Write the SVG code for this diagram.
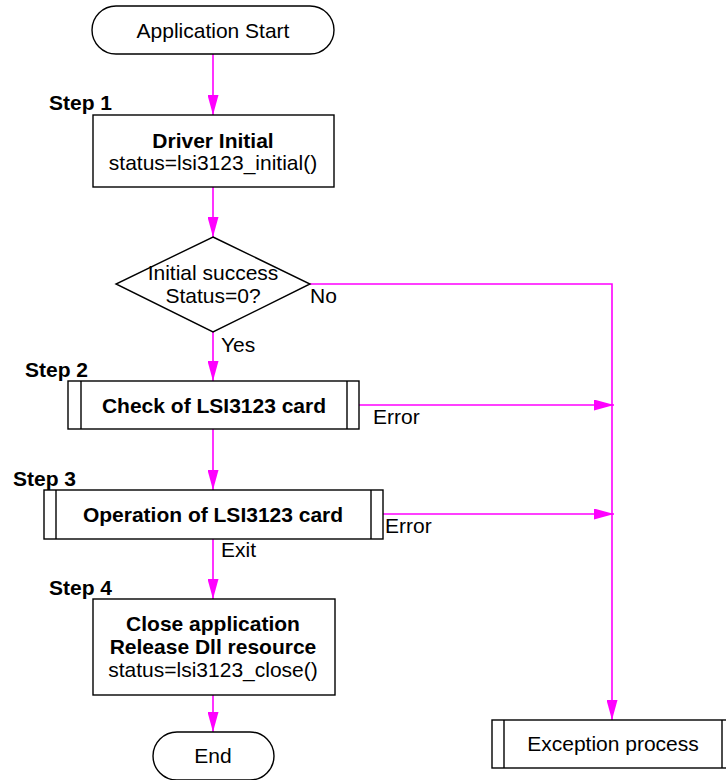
<svg xmlns="http://www.w3.org/2000/svg" width="726" height="780" viewBox="0 0 726 780">
<defs>
<marker id="arr" viewBox="0 0 20 11" refX="20" refY="5.5" markerWidth="20" markerHeight="11" markerUnits="userSpaceOnUse" orient="auto">
<path d="M0,0 L20,5.5 L0,11 Z" fill="#FF00FF"/>
</marker>
<style>
.shape{fill:#fff;stroke:#000;stroke-width:1.4}
.ln{fill:none;stroke:#000;stroke-width:1.4}
.con{fill:none;stroke:#FF00FF;stroke-width:1.6}
text{font-family:"Liberation Sans",Arial,sans-serif;font-size:21px;fill:#000}
.b{font-weight:bold}
.c{text-anchor:middle}
</style>
</defs>
<rect width="726" height="780" fill="#fff"/>
<g id="connectors">
<line class="con" x1="213" y1="54" x2="213" y2="115" marker-end="url(#arr)"/>
<line class="con" x1="213" y1="187" x2="213" y2="237" marker-end="url(#arr)"/>
<line class="con" x1="213" y1="332" x2="213" y2="381" marker-end="url(#arr)"/>
<line class="con" x1="213" y1="429" x2="213" y2="490" marker-end="url(#arr)"/>
<line class="con" x1="213" y1="539" x2="213" y2="599" marker-end="url(#arr)"/>
<line class="con" x1="213" y1="695" x2="213" y2="732" marker-end="url(#arr)"/>
<polyline class="con" points="310,284 612,284 612,720" marker-end="url(#arr)"/>
<line class="con" x1="359" y1="405" x2="614" y2="405" marker-end="url(#arr)"/>
<line class="con" x1="383" y1="514" x2="614" y2="514" marker-end="url(#arr)"/>
<text x="310" y="303">No</text>
<text x="221" y="352">Yes</text>
<text x="373" y="424">Error</text>
<text x="385" y="533">Error</text>
<text x="221" y="557">Exit</text>
</g>
<g id="start">
<rect class="shape" x="92" y="6" width="242" height="48" rx="24"/>
<text class="c" x="213" y="38">Application Start</text>
</g>
<g id="step1">
<text class="b" x="49" y="110">Step 1</text>
<rect class="shape" x="93" y="115" width="241" height="72"/>
<text class="b c" x="213" y="148">Driver Initial</text>
<text class="c" x="213" y="170">status=lsi3123_initial()</text>
</g>
<g id="decision">
<polygon class="shape" points="213,237 310,284 213,332 116,284"/>
<text class="c" x="213" y="280">Initial success</text>
<text class="c" x="213" y="303">Status=0?</text>
</g>
<g id="step2">
<text class="b" x="25" y="377">Step 2</text>
<rect class="shape" x="68" y="381" width="291" height="48"/>
<line class="ln" x1="81" y1="381" x2="81" y2="429"/>
<line class="ln" x1="347" y1="381" x2="347" y2="429"/>
<text class="b c" x="214" y="413">Check of LSI3123 card</text>
</g>
<g id="step3">
<text class="b" x="13" y="486">Step 3</text>
<rect class="shape" x="44" y="490" width="339" height="49"/>
<line class="ln" x1="56" y1="490" x2="56" y2="539"/>
<line class="ln" x1="371" y1="490" x2="371" y2="539"/>
<text class="b c" x="213" y="522">Operation of LSI3123 card</text>
</g>
<g id="step4">
<text class="b" x="49" y="595">Step 4</text>
<rect class="shape" x="93" y="599" width="242" height="96"/>
<text class="b c" x="213" y="631">Close application</text>
<text class="b c" x="213" y="654">Release Dll resource</text>
<text class="c" x="213" y="677">status=lsi3123_close()</text>
</g>
<g id="end">
<rect class="shape" x="153" y="732" width="121" height="48" rx="24"/>
<text class="c" x="213" y="763">End</text>
</g>
<g id="exception">
<rect class="shape" x="492" y="720" width="242" height="48"/>
<line class="ln" x1="504" y1="720" x2="504" y2="768"/>
<line class="ln" x1="722" y1="720" x2="722" y2="768"/>
<text class="c" x="613" y="751">Exception process</text>
</g>
</svg>
